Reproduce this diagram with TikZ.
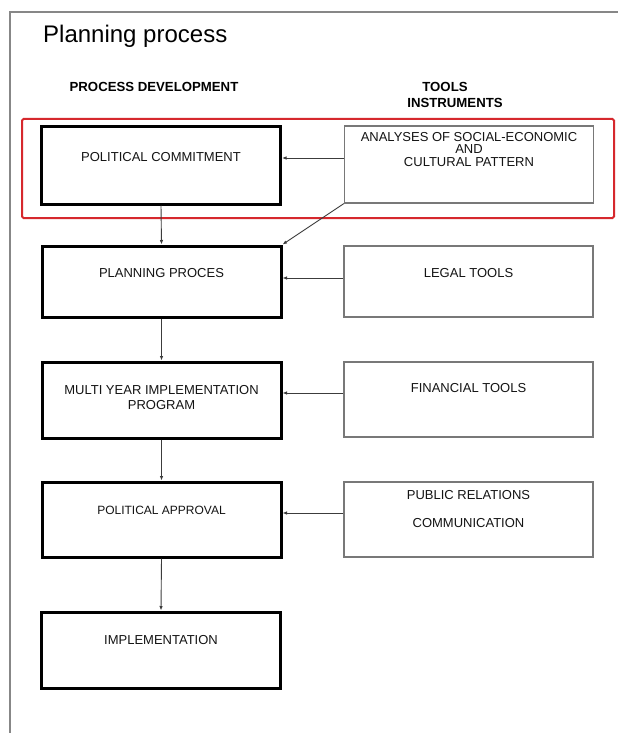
\documentclass[tikz,border=0pt]{standalone}
\usepackage{fontspec}
\setmainfont{Liberation Sans}
\usetikzlibrary{arrows.meta}
\definecolor{frameg}{RGB}{135,135,135}
\definecolor{thing}{RGB}{120,120,120}
\definecolor{redbox}{RGB}{214,40,45}
\definecolor{arrg}{RGB}{60,60,60}
\definecolor{txt}{RGB}{20,20,20}
\tikzset{
  thickbox/.style={draw=black, line width=3pt, minimum width=239pt, inner sep=0pt},
  thinbox/.style={draw=thing, line width=1.2pt, minimum width=249pt, inner sep=0pt},
  lbl/.style={inner sep=0pt, align=center, text=txt, font=\fontsize{13}{12.5}\selectfont},
  hdr/.style={inner sep=0pt, align=center, text=black, font=\fontsize{13.2}{15}\selectfont\bfseries},
  arr/.style={draw=arrg, line width=0.9pt, -{Latex[length=4.5pt,width=3.5pt]}}
}
\begin{document}
\begin{tikzpicture}[x=1pt,y=-1pt]
\useasboundingbox (0,0) rectangle (618,733);
\fill[white] (0,0) rectangle (618,733);
% frame
\draw[frameg, line width=1.5pt] (10,733) -- (10,12) -- (618,12);
% title and headers
\node[inner sep=0pt, anchor=base west, font=\fontsize{24}{27}\selectfont] (title) at (43,43) {Planning process};
\node[hdr, anchor=base] (hpd) at (154,92) {PROCESS DEVELOPMENT};
\node[hdr, anchor=base] (htools) at (445,92) {TOOLS};
\node[hdr, anchor=base] (hinst) at (455,108) {INSTRUMENTS};
% red highlight
\draw[redbox, line width=2pt, rounded corners=1.5pt] (22,119) rectangle (614,218);
% left column
\node[thickbox, minimum height=77pt] (P1) at (161,165.5) {};
\node[thickbox, minimum height=71pt] (P2) at (161.5,281.5) {};
\node[thickbox, minimum height=76pt] (P3) at (161.5,400) {};
\node[thickbox, minimum height=75pt] (P4) at (161.5,519.5) {};
\node[thickbox, minimum height=76pt] (P5) at (161,650) {};
% right column
\node[thinbox, minimum height=77pt] (A) at (469,164.5) {};
\node[thinbox, minimum height=71pt] (B) at (468.5,281.5) {};
\node[thinbox, minimum height=75pt] (C) at (468.5,399.5) {};
\node[thinbox, minimum height=75pt] (D) at (468.5,519.5) {};
% texts
\node[lbl] (t1) at ([yshift=8.5pt]P1.center) {POLITICAL COMMITMENT};
\node[lbl] (t2) at ([yshift=8.5pt]P2.center) {PLANNING PROCES};
\node[lbl] (t3) at ([yshift=2.5pt]P3.center) {MULTI YEAR IMPLEMENTATION\\[2.5pt]PROGRAM};
\node[lbl, font=\fontsize{12}{12}\selectfont] (t4) at ([yshift=9.5pt]P4.center) {POLITICAL APPROVAL};
\node[lbl] (t5) at ([yshift=10pt]P5.center) {IMPLEMENTATION};
\node[lbl] (tA) at ([yshift=15pt]A.center) {ANALYSES OF SOCIAL-ECONOMIC\\AND\\CULTURAL PATTERN};
\node[lbl] (tB) at ([yshift=8.5pt]B.center) {LEGAL TOOLS};
\node[lbl] (tC) at ([yshift=11.5pt]C.center) {FINANCIAL TOOLS};
\node[lbl] (tD) at ([yshift=10.5pt]D.center) {PUBLIC RELATIONS\\[15pt]COMMUNICATION};
% connectors
\draw[arr] (P1.south) -- (P2.north);
\draw[arr] (P2.south) -- (P3.north);
\draw[arr] (P3.south) -- (P4.north);
\draw[arr] (P4.south) -- (P5.north);
\draw[arr] ([yshift=6.5pt]A.west) -- ([yshift=6.5pt]A.west -| P1.east);
\draw[arr] ([yshift=3.5pt]B.west) -- ([yshift=3.5pt]B.west -| P2.east);
\draw[arr] ([yshift=6.5pt]C.west) -- ([yshift=6.5pt]C.west -| P3.east);
\draw[arr] ([yshift=6.5pt]D.west) -- ([yshift=6.5pt]D.west -| P4.east);
\draw[arr] (A.south west) -- (P2.north east);
\end{tikzpicture}
\end{document}
